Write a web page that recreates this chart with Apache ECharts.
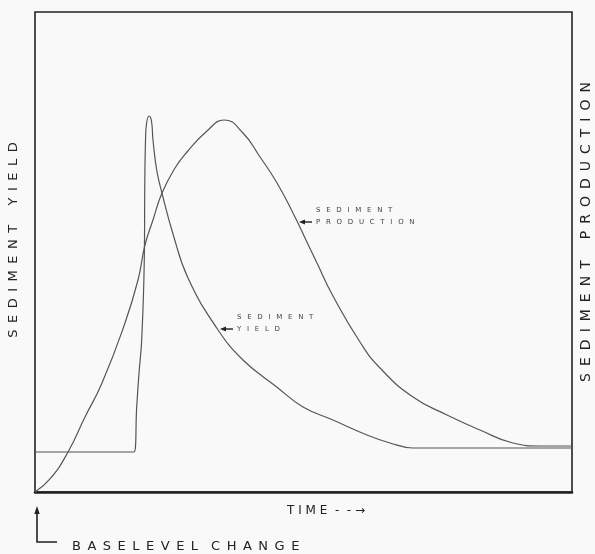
<!DOCTYPE html>
<html>
<head>
	<meta charset="UTF-8">
	<title>Sediment yield and production</title>
	<script src="https://cdn.jsdelivr.net/npm/echarts@6/dist/echarts.min.js"></script>
	<style>
		html, body { margin: 0; padding: 0; background: #f9f9f9; }
		#main { width: 595px; height: 554px; }
	</style>
</head>
<body>
<div id="main"></div>
<script type="text/javascript">
	// time runs 0..100 across the frame, values 0..100 up the frame (no units on the original)
	var yieldTime  = [0, 18.44, 18.94, 19.37, 19.87, 20.35, 20.45, 20.58, 20.76, 21.23, 21.69, 21.97, 22.66, 23.59, 25.7, 28.49, 33.84, 38.73, 45.01, 49.91, 55.49, 61.82, 66.11, 70.39, 100];
	var yieldValue = [8.33, 8.33, 17.77, 24.79, 31.67, 48.33, 65.0, 73.33, 76.67, 78.33, 77.29, 73.33, 67.08, 62.5, 53.75, 44.58, 34.17, 27.5, 21.88, 17.71, 15.0, 11.88, 10.21, 9.17, 9.17];

	var prodTime  = [0, 2.79, 6.15, 9.31, 12.48, 16.76, 19.18, 20.48, 21.97, 23.65, 26.07, 28.31, 32.03, 35.2, 38.73, 41.9, 45.07, 48.04, 50.28, 52.51, 55.49, 60.52, 64.25, 70.39, 76.72, 82.87, 89.01, 94.04, 100];
	var prodValue = [0, 2.71, 8.33, 15.63, 22.71, 35.21, 44.17, 51.46, 56.67, 62.29, 67.5, 70.83, 75.21, 77.5, 74.79, 69.79, 64.38, 58.13, 52.92, 47.71, 40.83, 31.25, 25.83, 19.79, 16.04, 12.92, 10.21, 9.58, 9.58];

	var leftTitle = 'SEDIMENT YIELD';
	var rightTitle = 'SEDIMENT PRODUCTION';
	var xTitle = 'TIME';
	var startNote = 'BASELEVEL CHANGE';

	function pairs(xs, ys) {
		var out = [];
		for (var i = 0; i < xs.length; i++) out.push([xs[i], ys[i]]);
		return out;
	}

	// spread letters out like the old lettering set
	function spaced(str, sep, wordSep) {
		return str.split(' ').map(function (w) {
			return w.split('').join(sep);
		}).join(wordSep);
	}

	var ink = '#222';
	var font = '"DejaVu Sans", sans-serif';

	var myChart = echarts.init(document.getElementById('main'), null, {renderer: 'canvas'});

	var option = {
		backgroundColor: '#f9f9f9',
		animation: false,
		grid: {
			left: 35, right: 23, top: 12, bottom: 62,
			show: true,
			borderColor: ink,
			borderWidth: 1.6,
			backgroundColor: 'transparent'
		},
		xAxis: {
			type: 'value', min: 0, max: 100,
			axisLine: {show: true, onZero: false, lineStyle: {color: ink, width: 2.6}},
			axisTick: {show: false}, axisLabel: {show: false}, splitLine: {show: false}
		},
		yAxis: {
			type: 'value', min: 0, max: 100,
			axisLine: {show: false}, axisTick: {show: false},
			axisLabel: {show: false}, splitLine: {show: false}
		},
		series: [
			{
				name: 'Sediment yield',
				type: 'line',
				data: pairs(yieldTime, yieldValue),
				showSymbol: false,
				smooth: 0.45,
				lineStyle: {color: '#555', width: 1.2}
			},
			{
				name: 'Sediment production',
				type: 'line',
				data: pairs(prodTime, prodValue),
				showSymbol: false,
				smooth: 0.5,
				lineStyle: {color: '#555', width: 1.2}
			}
		],
		graphic: [
			{
				type: 'text', x: 14, y: 240, rotation: Math.PI / 2,
				style: {text: spaced(leftTitle, '\u2002', '\u2003\u2002'), font: '13px ' + font, fill: ink, align: 'center', verticalAlign: 'middle'}
			},
			{
				type: 'text', x: 586, y: 232, rotation: Math.PI / 2,
				style: {text: spaced(rightTitle, '\u2002', '\u2003\u2002'), font: '14px ' + font, fill: ink, align: 'center', verticalAlign: 'middle'}
			},
			{
				type: 'text', x: 287, y: 511,
				style: {text: spaced(xTitle, ' ', ' ') + '  -  - \u2192', font: '12px ' + font, fill: ink, align: 'left', verticalAlign: 'middle'}
			},
			{
				type: 'text', x: 72, y: 547,
				style: {text: spaced(startNote, '\u2002', '\u2003'), font: '13px ' + font, fill: ink, align: 'left', verticalAlign: 'middle'}
			},
			// baselevel change pointer
			{
				type: 'polyline', shape: {points: [[37, 512], [37, 542], [57, 542]]},
				style: {stroke: ink, lineWidth: 1.6, fill: null}
			},
			{
				type: 'polygon', shape: {points: [[37, 506], [34.3, 514], [39.7, 514]]},
				style: {fill: ink}
			},
			// curve labels
			{
				type: 'text', x: 316, y: 210,
				style: {text: spaced('SEDIMENT', '\u2002 ', ' '), font: '7px ' + font, fill: '#444', align: 'left', verticalAlign: 'middle'}
			},
			{
				type: 'text', x: 316, y: 222,
				style: {text: spaced('PRODUCTION', '\u2002 ', ' '), font: '7px ' + font, fill: '#444', align: 'left', verticalAlign: 'middle'}
			},
			{
				type: 'line', shape: {x1: 303, y1: 222, x2: 312, y2: 222},
				style: {stroke: ink, lineWidth: 1.4}
			},
			{
				type: 'polygon', shape: {points: [[299, 222], [305, 219.5], [305, 224.5]]},
				style: {fill: ink}
			},
			{
				type: 'text', x: 237, y: 317,
				style: {text: spaced('SEDIMENT', '\u2002 ', ' '), font: '7px ' + font, fill: '#444', align: 'left', verticalAlign: 'middle'}
			},
			{
				type: 'text', x: 237, y: 329,
				style: {text: spaced('YIELD', '\u2002 ', ' '), font: '7px ' + font, fill: '#444', align: 'left', verticalAlign: 'middle'}
			},
			{
				type: 'line', shape: {x1: 224, y1: 329, x2: 233, y2: 329},
				style: {stroke: ink, lineWidth: 1.4}
			},
			{
				type: 'polygon', shape: {points: [[220, 329], [226, 326.5], [226, 331.5]]},
				style: {fill: ink}
			}
		]
	};
	myChart.setOption(option, true);
</script>
</body>
</html>
